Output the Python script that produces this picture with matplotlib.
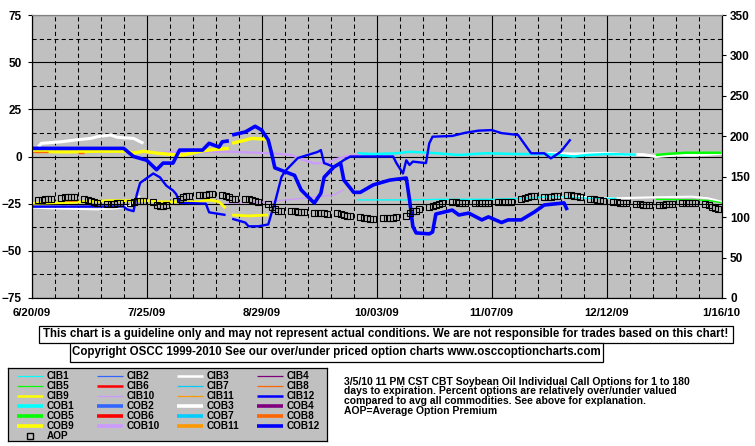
import matplotlib
matplotlib.use('Agg')
import matplotlib.pyplot as plt
from matplotlib.lines import Line2D
from matplotlib.patches import Rectangle
from matplotlib.ticker import FixedLocator, FuncFormatter
import matplotlib.dates as mdates
import numpy as np
import pandas as pd

plt.rcParams['font.family'] = ['Liberation Sans', 'DejaVu Sans']
plt.rcParams['font.weight'] = 'bold'

W, H = 755, 446
nan = np.nan
start = pd.Timestamp('2009-06-20')
end = pd.Timestamp('2010-01-16')

# ---- series data: day offsets from 6/20/09 and percent over/under value ----
cob12_days = [0, 28, 31, 35, 38, 40, 43, 45, 52, 54, 57, 58, 60, 60.5, 61, 65, 68, 70, 72, 73, 74, 77, 80, 82,
              86, 88, 89, 92, 94, 95, 98, 100, 104, 109, 114, 115, 116, 117, 121, 122, 123, 128, 130, 133,
              137, 139, 143, 145, 149, 153, 156, 162, 163]
cob12_vals = [4.3, 4.3, 0, -2, -7, -3.5, -3.5, 3.4, 3.4, 7, 5, 7.8, 8.3, nan, 11.4, 13, 16, 14, 8.7, 1.8, -6, -8,
              -10, -17.7, -24.7, -19.5, -11, -5.5, -3.5, -12.5, -19, -19, -15, -12.5, -11.4, -23, -37, -40.5,
              -41, -40, -30.5, -28.4, -31, -30, -33.6, -32, -35, -33.6, -33.6, -29.4, -25.7, -24.6, -28.4]

cib12_days = [0, 28, 29, 31, 32, 33, 37, 39, 41, 43, 44, 45, 53, 54, 59, 60, 61, 65, 66, 69, 72, 73, 74, 76, 77,
              81, 87, 88, 89, 92, 95, 97, 110, 111, 113, 114, 115, 116, 120, 121, 122, 128, 132, 136, 140,
              143, 148, 152, 156, 158, 161, 164]
cib12_vals = [-26.6, -26.5, -28, -29, -20, -14, -9, -11, -15.5, -18, -20, -24.5, -25, -29.6, -31, nan, -33, -35,
              -37, -37, -36, -30, -24.6, -11, -8, -0.8, 2.4, 3.4, -3.5, -5.5, -1.9, 0, 0, -3.5, -9, -2, -4.5,
              -2.7, -3.5, 7, 10.5, 10.9, 12.6, 13.7, 14, 12.4, 11.4, 1.7, 1.7, -1, 2.5, 9.1]

cob3_days = [2, 3, 9, 13, 18, 20, 24, 26, 31, 34, 100, 157, 165, 175, 180, 186, 190, 196, 202, 210]
cob3_vals = [5.2, 7, 7.8, 8.7, 9.6, 10.5, 11.4, 10.2, 9.6, 7, nan, 1.7, 1.3, 1.7, 1.0, 1.0, 0, 0.8, 0.8, 1.7]

cib3_days = [0, 6, 20, 26, 30, 31, 33, 100, 155, 165, 177, 190, 201, 206, 210]
cib3_vals = [-27, -27.5, -28, -27.5, -26, -23, -21, nan, -21.6, -21.3, -22.2, -21.6, -21.3, -22.2, -24]

cob1_days = [99, 104, 111, 115, 121, 130, 138, 148, 157, 165, 169, 175, 184]
cob1_vals = [1.7, 1.3, 1.7, 2.5, 2, 0.8, 1.7, 1.3, 1.3, 0, 0.8, 1.3, 1.0]

cib1_days = [99, 104, 115, 125, 140, 150, 155, 161, 165, 170, 178]
cib1_vals = [-23, -23, -23, -22.7, -22.7, -22.2, -21.6, -21.3, -21.6, -22.2, -22.2]

cob5_days = [190, 193, 199, 210]
cob5_vals = [0.8, 1.3, 2, 2]
cib5_days = [190, 200, 206, 210]
cib5_vals = [-22.7, -23, -23.3, -24.5]

cob9_days = [0, 10, 20, 29, 31, 34, 38, 43, 46, 52, 56, 60, 60.5, 61, 65, 67, 72]
cob9_vals = [2.8, 2.4, 2.8, 2.8, 1.8, 2.8, 1.8, 1.0, 0.8, 3.0, 3.8, 4.3, nan, 7, 8.7, 9.6, 9.1]
cib9_days = [0, 11, 24, 35, 39, 51, 54, 57, 59, 60, 61, 66, 72]
cib9_vals = [-24.8, -24.4, -23.4, -23.4, -24, -24, -23, -24, -27.4, nan, -31, -31.5, -31]

cob10_days = [35, 45, 61, 73, 79, 82, 86, 90, 92, 96, 100]
cob10_vals = [1.7, 2.5, 2.5, 1.7, 0.8, -1.5, -3.6, -3.6, -1.7, 0.3, 0.8]
cib10_days = [59, 72, 82, 92, 95]
cib10_vals = [-24.8, -24, -22.2, -20.4, -17.5]

cib8_days = [0, 5, 9, 14, 16]
cib8_vals = [2.2, 2.2, nan, 1.8, 1.8]
cob11_days = [10, 14]
cob11_vals = [-23.8, -23.8]

# average option premium, one value per trading day (right axis)
aop_vals = [121, 121, 122, 122, 123, 124, 125, 125, 125, 125, 122, 121, 120, 119, 118,
            116, 116, 116, 117, 117, 118, 119, 120, 120, 120, 119, 115, 114, 114, 115,
            120, 123, 125, 126, 126, 127, 128, 128, 129, 129, 128, 126, 125, 123, 123,
            122, 122, 121, 120, 119, 116, 112, 110, 108, 107, 107, 107, 106, 106, 106,
            105, 105, 105, 105, 104, 105, 104, 103, 102, 101, 100, 99, 99, 98, 98,
            99, 99, 99, 99, 100, 102, 105, 107, 108, 110, 113, 114, 115, 116, 117,
            119, 119, 118, 118, 118, 118, 118, 118, 118, 118, 119, 119, 119, 119, 119,
            123, 124, 125, 126, 126, 125, 125, 125, 126, 126, 127, 127, 126, 126, 125,
            123, 122, 121, 121, 120, 119, 119, 118, 118, 117, 116, 116, 115, 115, 115,
            115, 115, 116, 116, 116, 117, 117, 117, 118, 118, 116, 115, 113, 111, 110]
aop_dates = pd.bdate_range('2009-06-22', '2010-01-15')

colors = {
    'CIB1': '#00FFFF', 'CIB2': '#3366FF', 'CIB3': '#FFFFFF', 'CIB4': '#800080',
    'CIB5': '#00FF00', 'CIB6': '#FF0000', 'CIB7': '#00CCFF', 'CIB8': '#FF6600',
    'CIB9': '#FFFF00', 'CIB10': '#CC99FF', 'CIB11': '#FF9900', 'CIB12': '#0000FF',
}
for k in list(colors):
    colors['COB' + k[3:]] = colors[k]


def to_dates(days):
    return start + pd.to_timedelta(days, unit='D')


def fx(px):
    return px / W


def fy(py):
    return 1 - py / H


fig = plt.figure(figsize=(W / 100, H / 100), dpi=100)
ax = fig.add_axes([fx(31.7), fy(298), (721.7 - 31.7) / W, (298 - 15) / H])
ax.set_facecolor('#C0C0C0')

# lower group (thin) first, upper group (thick) after
plot_list = [
    ('CIB3', cib3_days, cib3_vals, 1.5),
    ('CIB1', cib1_days, cib1_vals, 1.0),
    ('CIB5', cib5_days, cib5_vals, 1.0),
    ('CIB10', cib10_days, cib10_vals, 1.0),
    ('CIB9', cib9_days, cib9_vals, 2.0),
    ('COB11', cob11_days, cob11_vals, 1.5),
    ('COB3', cob3_days, cob3_vals, 2.2),
    ('COB1', cob1_days, cob1_vals, 1.8),
    ('COB5', cob5_days, cob5_vals, 1.8),
    ('COB10', cob10_days, cob10_vals, 1.6),
    ('COB9', cob9_days, cob9_vals, 2.4),
    ('CIB8', cib8_days, cib8_vals, 1.0),
    ('CIB12', cib12_days, cib12_vals, 1.7),
    ('COB12', cob12_days, cob12_vals, 2.6),
]
for name, d, v, lw in plot_list:
    ax.plot(to_dates(d), np.array(v, dtype=float), color=colors[name], lw=lw,
            solid_capstyle='butt', zorder=3)

ax.set_xlim(start, end)
ax.set_ylim(-75, 75)
ax.set_yticks(np.arange(-75, 76, 25))
ax.yaxis.set_minor_locator(FixedLocator(np.arange(-62.5, 75, 25)))
major_x = pd.date_range(start, end, freq='35D')
ax.set_xticks(major_x)
ax.xaxis.set_minor_locator(FixedLocator(mdates.date2num(pd.date_range(start, end, freq='7D'))))
ax.xaxis.set_major_formatter(FuncFormatter(
    lambda x, p: (lambda d: f'{d.month}/{d.day:02d}/{d:%y}')(mdates.num2date(x))))
ax.grid(which='major', color='black', lw=0.8, ls='-', zorder=1)
ax.grid(which='minor', color='black', lw=0.75, ls=(0, (4, 3)), zorder=1)
ax.set_axisbelow(True)
ax.tick_params(axis='y', which='major', length=3, width=0.8, pad=4, labelsize=8.5)
ax.tick_params(axis='y', which='minor', length=0)
ax.tick_params(axis='x', which='both', length=0, pad=7.5, labelsize=8.2)
for s in ['left', 'bottom', 'right']:
    ax.spines[s].set_color('black')
ax.spines['top'].set_color('#808080')

# average option premium on the right axis
ax2 = ax.twinx()
ax2.plot(aop_dates, aop_vals, ls='none', marker='s', ms=5, mfc='none', mec='black', mew=0.8, zorder=5)
ax2.set_ylim(0, 350)
ax2.set_yticks(np.arange(0, 351, 50))
ax2.tick_params(axis='y', length=3, width=0.8, pad=3, labelsize=8.5)
ax2.spines['top'].set_color('#808080')

# disclaimer boxes
boxes = [
    (39, 733, 325.7, 343, 'This chart is a guideline only and may not represent actual conditions. '
                          'We are not responsible for trades based on this chart!'),
    (70, 603, 343, 362, 'Copyright OSCC 1999-2010 See our over/under priced option charts '
                        'www.osccoptioncharts.com'),
]
for x0, x1, y0, y1, txt in boxes:
    fig.patches.append(Rectangle((fx(x0), fy(y1)), (x1 - x0) / W, (y1 - y0) / H,
                                 transform=fig.transFigure, fc='white', ec='black', lw=0.9))
    fig.text(fx((x0 + x1) / 2), fy((y0 + y1) / 2), txt, ha='center', va='center',
             fontsize=8.3, fontweight='bold')

# legend box
lax = fig.add_axes([fx(8), fy(441), 319 / W, 73 / H])
lax.set_facecolor('#C0C0C0')
lax.set_xlim(0, 319)
lax.set_ylim(73, 0)
lax.set_xticks([])
lax.set_yticks([])
for s in lax.spines.values():
    s.set_color('black')
    s.set_linewidth(0.9)

legend_names = ['CIB%d' % i for i in range(1, 13)] + ['COB%d' % i for i in range(1, 13)]
legend_lw = {'CIB3': 1.8, 'CIB6': 1.8, 'CIB9': 1.8, 'CIB12': 1.8}
for i, name in enumerate(legend_names):
    col, row = i % 4, i // 4
    y = 7.7 + 10 * row
    lw = 2.6 if name.startswith('COB') else legend_lw.get(name, 0.9)
    lax.add_line(Line2D([8.7 + 80 * col, 35.3 + 80 * col], [y, y], color=colors[name], lw=lw,
                        solid_capstyle='butt'))
    lax.text(38.7 + 80 * col, y, name, ha='left', va='center', fontsize=7.2, fontweight='bold')
lax.plot([22], [68], ls='none', marker='s', ms=5, mfc='none', mec='black', mew=1.0)
lax.text(38.7, 68, 'AOP', ha='left', va='center', fontsize=7.2, fontweight='bold')

note_lines = [
    '3/5/10 11 PM CST CBT Soybean Oil Individual Call Options for 1 to 180',
    'days to expiration. Percent options are relatively over/under valued',
    'compared to avg all commodities. See above for explanation.',
    'AOP=Average Option Premium',
]
for j, line in enumerate(note_lines):
    fig.text(fx(344), fy(381.7 + 9.8 * j), line, ha='left', va='center', fontsize=7.5, fontweight='bold')

fig.savefig('out.png', dpi=100)
